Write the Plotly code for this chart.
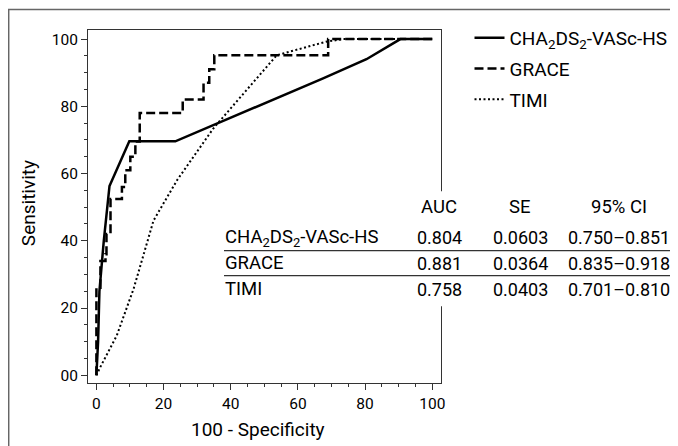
import plotly.graph_objects as go

# ---------------- data ----------------
fpr_cha = [0, 0.5, 0.9, 2.2, 3.9, 9.8, 23.5, 34.8, 53.0, 67.5, 80.4, 90.5, 100]
tpr_cha = [0, 10, 25, 40, 56.3, 69.6, 69.6, 74.4, 82.1, 88.3, 94.0, 100, 100]

fpr_grace = [0, 0, 1.2, 2.7, 3.0, 4.2, 4.2, 7.6, 8.6, 10.1, 11.6, 12.9, 25.7, 31.9, 33.6, 35.1, 69.0, 100]
tpr_grace = [0, 26, 34, 36, 42, 44, 52.4, 56, 61, 65, 69.5, 78, 82, 87, 91, 95.2, 100, 100]

fpr_timi = [0, 1.2, 6.1, 11.1, 17, 24, 34.8, 44, 53.7, 68.3, 73.5, 100]
tpr_timi = [0, 2.5, 11.9, 25.8, 46, 58, 73.4, 84, 95.2, 99.2, 100, 100]

series_names = ["CHA<sub>2</sub>DS<sub>2</sub>-VASc-HS", "GRACE", "TIMI"]
x_ticks = [0, 20, 40, 60, 80, 100]
x_tick_labels = ["0", "20", "40", "60", "80", "100"]
y_ticks = [0, 20, 40, 60, 80, 100]
y_tick_labels = ["00", "20", "40", "60", "80", "100"]

table_headers = ["AUC", "SE", "95% CI"]
table_auc = ["0.804", "0.881", "0.758"]
table_se = ["0.0603", "0.0364", "0.0403"]
table_ci = ["0.750–0.851", "0.835–0.918", "0.701–0.810"]

# ---------------- layout helpers ----------------
OFF = 8                      # page body margin of the html page
W, H = 670, 438              # figure size (page is 678x446 incl. body margin)
L, T = 80, 22                # plot area left / top in figure pixels
PLOT_R, PLOT_B = 433, 374.7  # plot area right / bottom in figure pixels
R, B = W - PLOT_R, H - PLOT_B
PW, PH = PLOT_R - L, PLOT_B - T
FONT = "Roboto, Liberation Sans, sans-serif"


def px_x(px):
    """screen pixel x -> paper coordinate"""
    return (px - OFF - L) / PW


def px_y(py):
    """screen pixel y -> paper coordinate"""
    return (PLOT_B - (py - OFF)) / PH


fig = go.Figure()
fig.add_trace(go.Scatter(x=fpr_cha, y=tpr_cha, mode="lines", name=series_names[0],
                         legendgroup="a", line=dict(color="black", width=2.5)))
fig.add_trace(go.Scatter(x=fpr_grace, y=tpr_grace, mode="lines", name=series_names[1],
                         legendgroup="b", line=dict(color="black", width=2.5, dash="9px,4px", shape="hv")))
fig.add_trace(go.Scatter(x=fpr_timi, y=tpr_timi, mode="lines", name=series_names[2],
                         legendgroup="c", line=dict(color="black", width=2, dash="2px,2.5px")))

axis_common = dict(
    showgrid=False, zeroline=False, showline=True, linecolor="#333", linewidth=1,
    mirror=True, ticks="outside", ticklen=6, tickwidth=1, tickcolor="#333",
    tickfont=dict(family=FONT, size=15.5, color="black"), tickmode="array",
    automargin=False,
    minor=dict(dtick=5, tick0=0, ticks="outside", ticklen=3, tickwidth=1,
               tickcolor="#333", showgrid=False),
)
fig.update_xaxes(range=[-2.5, 102.6], tickvals=x_ticks, ticktext=x_tick_labels, **axis_common)
fig.update_yaxes(range=[-2.3, 102.7], tickvals=y_ticks, ticktext=y_tick_labels, **axis_common)

shapes = [
    dict(type="rect", xref="paper", yref="paper", x0=px_x(8.7), x1=px_x(700),
         y0=px_y(470), y1=px_y(9.5), line=dict(color="#666", width=1.5),
         fillcolor="rgba(0,0,0,0)", layer="below"),
    dict(type="rect", xref="paper", yref="paper", x0=px_x(218), x1=px_x(677),
         y0=px_y(306), y1=px_y(191), line=dict(width=0), fillcolor="white", layer="above"),
    dict(type="line", xref="paper", yref="paper", x0=px_x(224), x1=px_x(672),
         y0=px_y(250.5), y1=px_y(250.5), line=dict(color="#333", width=1.3), layer="above"),
    dict(type="line", xref="paper", yref="paper", x0=px_x(224), x1=px_x(672),
         y0=px_y(275.5), y1=px_y(275.5), line=dict(color="#333", width=1.3), layer="above"),
]

annotations = []
tfont = dict(family=FONT, size=19, color="black")
tabfont = dict(family=FONT, size=18.5, color="black")
numfont = dict(family=FONT, size=18, color="black")
# axis titles
annotations.append(dict(text="100 - Specificity", xref="paper", yref="paper",
                        x=px_x(258), y=px_y(429), xanchor="center", yanchor="middle",
                        showarrow=False, font=tfont))
annotations.append(dict(text="Sensitivity", xref="paper", yref="paper", textangle=-90,
                        x=px_x(28), y=px_y(203), xanchor="center", yanchor="middle",
                        showarrow=False, font=tfont))
# table
col_x = [439, 520, 619]
row_y = [237.5, 263, 289]
for cx, h in zip(col_x, table_headers):
    annotations.append(dict(text=h, xref="paper", yref="paper", x=px_x(cx), y=px_y(206.5),
                            xanchor="center", yanchor="middle", showarrow=False, font=tabfont))
for i, ry in enumerate(row_y):
    annotations.append(dict(text=series_names[i], xref="paper", yref="paper", x=px_x(223),
                            y=px_y(ry), xanchor="left", yanchor="middle", showarrow=False, font=tabfont))
    for cx, vals in zip(col_x, [table_auc, table_se, table_ci]):
        annotations.append(dict(text=vals[i], xref="paper", yref="paper", x=px_x(cx),
                                y=px_y(ry), xanchor="center", yanchor="middle",
                                showarrow=False, font=numfont))

fig.update_layout(
    width=W, height=H, margin=dict(l=L, r=R, t=T, b=B, autoexpand=False),
    paper_bgcolor="white", plot_bgcolor="white",
    font=dict(family=FONT, color="black"),
    showlegend=True,
    legend=dict(x=px_x(469.5), y=px_y(19), xanchor="left", yanchor="top",
                font=tfont, bgcolor="rgba(0,0,0,0)", borderwidth=0,
                traceorder="grouped", tracegroupgap=3, itemwidth=30),
    shapes=shapes, annotations=annotations,
)

fig.write_html("out.html")
